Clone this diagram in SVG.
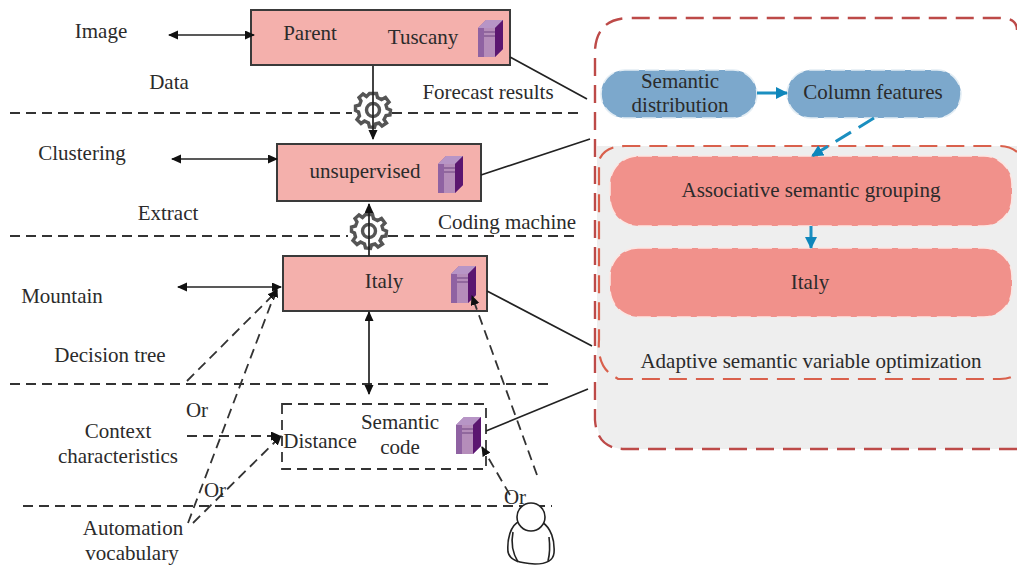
<svg xmlns="http://www.w3.org/2000/svg" width="1017" height="567" viewBox="0 0 1017 567">
<style>
text{font-family:"Liberation Serif","Times New Roman",serif;font-size:21px;fill:#2b2b2b;text-anchor:middle}
.box{fill:#f4b0ac;stroke:#3a3a3a;stroke-width:2}
.dash{fill:none;stroke:#333;stroke-width:1.800;stroke-dasharray:10 6}
.line{fill:none;stroke:#222;stroke-width:1.700}
.gear{fill:none;stroke:#555;stroke-width:3.400}
.blue{fill:#7ca8cc;stroke:#e3edf4;stroke-width:1.600;stroke-dasharray:14 6}
.red{fill:#f1918b;stroke:#fbe6e3;stroke-width:1.600;stroke-dasharray:14 6}
.arrow{fill:none;stroke:#1b8fc0;stroke-width:3}
</style>
<defs>
<marker id="a" markerWidth="10" markerHeight="10" refX="9" refY="4.500" orient="auto-start-reverse" markerUnits="userSpaceOnUse"><path d="M0 0L10 4.500L0 9z" fill="#111"/></marker>
<marker id="b" markerWidth="14" markerHeight="14" refX="11" refY="6" orient="auto" markerUnits="userSpaceOnUse"><path d="M0 0L12 6L0 12z" fill="#0e86bb"/></marker>
<g id="server">
<path d="M0 8L8 0H25V29L17 37H0z" fill="#8f62a2"/>
<path d="M0 8L8 0H25L17 8z" fill="#b795c6"/>
<path d="M17 8L25 0V29L17 37z" fill="#5b1670"/>
<path d="M6 8H17V37H6z" fill="#b58dba"/>
<path d="M6 12H17M6 16H17" stroke="#6e4580" stroke-width="1.200"/>
</g>
<g id="gear">
<path class="gear" d="M-3.500 -16.500L3.500 -16.500L4.500 -12.500L8.500 -10.500L12.500 -12.500L16 -8L13 -5L14 -1.500L17.500 0L17 5L13 5.500L11 9.500L13.500 13L9 16L6 13L2.500 14L1.500 17.500L-3.500 17L-4.500 13L-8.500 11L-12 13.500L-16 9.500L-13.500 6L-14.500 2L-17.500 0.500L-17.500 -4L-13.500 -5L-12 -9L-14 -12.500L-10 -16L-6.500 -13.500z"/>
<circle class="gear" r="6.500" stroke-width="3"/>
</g>
</defs>

<g id="panel">
<path id="gray-panel" d="M597 146H1017V449H625Q597 449 597 420z" fill="#eeeeee"/>
<path d="M1017 449H625Q597 449 595 420V50Q597 18 630 18H1000Q1017 18 1017 30" fill="none" stroke="#bd4a48" stroke-width="2.400" stroke-dasharray="18 9"/>
<path d="M1017 152Q1010 146 1000 146H625Q605 146 599 160V340Q597 365 612 375L618 379H1000Q1012 379 1017 373" fill="none" stroke="#d9604c" stroke-width="2.200" stroke-dasharray="18 9"/>
</g>

<use href="#gear" x="373" y="110"/>
<use href="#gear" x="369" y="231"/>

<g id="node-parent">
<rect class="box" x="251" y="10" width="259" height="55"/>
<text x="310" y="40">Parent</text>
<text x="423" y="44">Tuscany</text>
<use href="#server" x="478" y="20"/>
</g>
<g id="node-unsupervised">
<rect class="box" x="277" y="144" width="204" height="57"/>
<text x="365" y="178">unsupervised</text>
<use href="#server" x="438" y="156"/>
</g>
<g id="node-italy">
<rect class="box" x="283" y="256" width="204" height="55"/>
<text x="384" y="288">Italy</text>
<use href="#server" x="451" y="266"/>
</g>
<g id="node-semantic-code">
<rect class="dash" x="282" y="404" width="204" height="65"/>
<text x="320" y="448">Distance</text>
<text x="400" y="429">Semantic</text>
<text x="400" y="454">code</text>
<use href="#server" x="456" y="417"/>
</g>
<g id="node-semantic-distribution">
<rect class="blue" x="601" y="70" width="156" height="48" rx="24"/>
<text x="680" y="88">Semantic</text>
<text x="680" y="112">distribution</text>
</g>
<g id="node-column-features">
<rect class="blue" x="787" y="70" width="174" height="48" rx="24"/>
<text x="873" y="99">Column features</text>
</g>
<g id="node-associative">
<rect class="red" x="610" y="156" width="402" height="70" rx="28"/>
<text x="811" y="197">Associative semantic grouping</text>
</g>
<g id="node-italy-2">
<rect class="red" x="610" y="248" width="402" height="69" rx="28"/>
<text x="810" y="289">Italy</text>
</g>
<text x="811" y="368">Adaptive semantic variable optimization</text>

<g id="connectors">
<path class="dash" d="M10 113H352M392 113H580M10 236H348M388 236H580M10 384H552M23 506H552"/>
<path class="line" marker-start="url(#a)" marker-end="url(#a)" d="M169 35H254"/>
<path class="line" marker-start="url(#a)" marker-end="url(#a)" d="M172 159H277"/>
<path class="line" marker-start="url(#a)" marker-end="url(#a)" d="M178 287H281"/>
<path class="line" marker-end="url(#a)" d="M373 66V139"/>
<path class="line" marker-end="url(#a)" d="M369 256V204"/>
<path class="line" marker-start="url(#a)" marker-end="url(#a)" d="M369 312V394"/>
<path class="line" d="M510 57L587 99M481 175L590 139M487 291L592 346M486 431L588 389"/>
<path class="dash" marker-end="url(#a)" d="M187 381L277 291"/>
<path class="dash" marker-end="url(#a)" d="M187 436H280"/>
<path class="dash" marker-end="url(#a)" d="M193 523L281 436"/>
<path class="dash" marker-end="url(#a)" d="M188 523L277 288"/>
<path class="dash" marker-end="url(#a)" d="M537 475L472 296"/>
<path class="dash" marker-end="url(#a)" d="M510 495L482 447"/>
<path class="arrow" marker-end="url(#b)" d="M757 93H787"/>
<path class="arrow" stroke-dasharray="18 9" marker-end="url(#b)" d="M874 118L812 156"/>
<path class="arrow" stroke-width="2.400" marker-end="url(#b)" d="M811 226V248"/>
</g>

<g id="labels">
<text x="101" y="38">Image</text>
<text x="169" y="89">Data</text>
<text x="488" y="99">Forecast results</text>
<text x="82" y="160">Clustering</text>
<text x="168" y="220">Extract</text>
<text x="507" y="229">Coding machine</text>
<text x="62" y="303">Mountain</text>
<text x="110" y="362">Decision tree</text>
<text x="197" y="417">Or</text>
<text x="118" y="438">Context</text>
<text x="118" y="463">characteristics</text>
<text x="215" y="497">Or</text>
<text x="133" y="535">Automation</text>
<text x="132" y="560">vocabulary</text>
<text x="515" y="504">Or</text>
</g>

<g id="user" fill="#fff" stroke="#222" stroke-width="1.600">
<path d="M520 521C510 525 507 540 508 552C510 561 520 563 535 564C545 564 553 562 554 553C555 540 551 528 542 522" fill="#fff"/>
<path d="M513 532C511 542 512 552 518 562M549 537C550 545 550 553 548 561" fill="none"/>
<circle cx="531" cy="517" r="14"/>
</g>
</svg>
